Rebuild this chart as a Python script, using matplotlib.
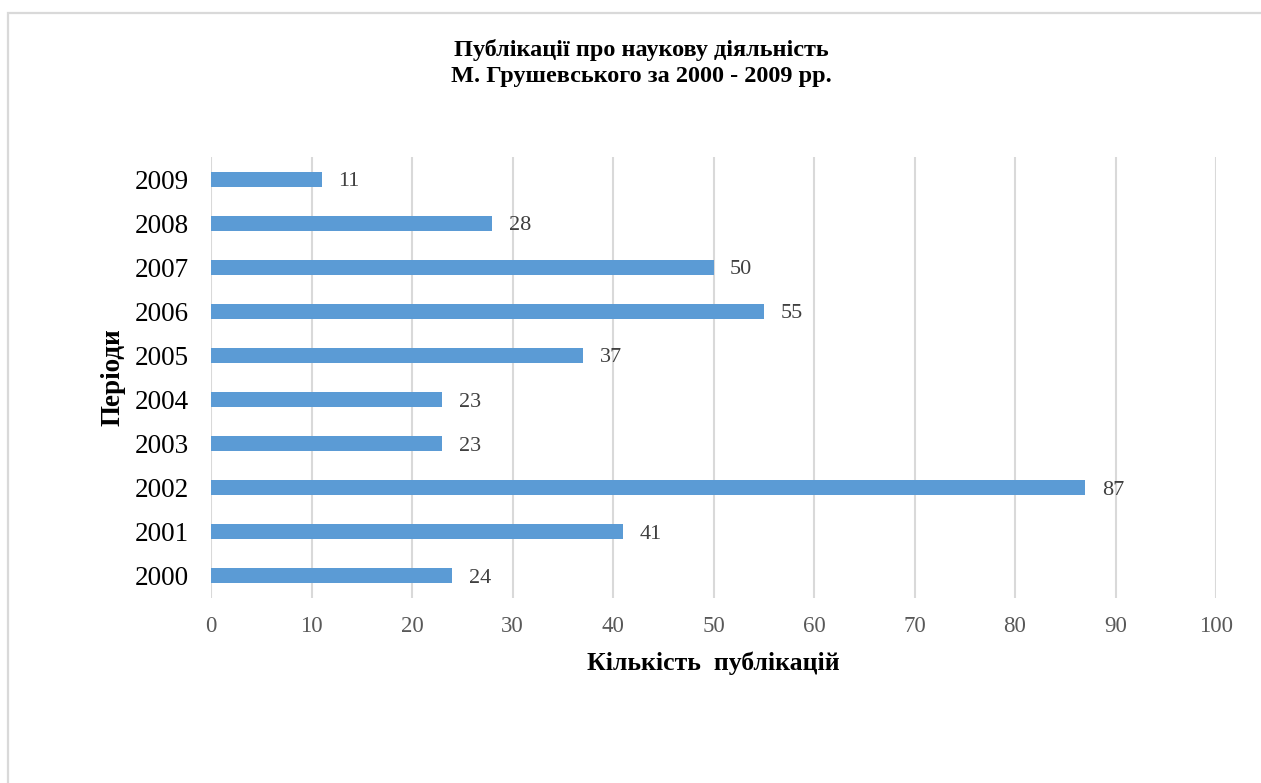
import matplotlib
matplotlib.use("Agg")
import matplotlib.pyplot as plt
from matplotlib.patches import Rectangle

years = ["2000", "2001", "2002", "2003", "2004", "2005", "2006", "2007", "2008", "2009"]
counts = [24, 41, 87, 23, 23, 37, 55, 50, 28, 11]
xticks = [0, 10, 20, 30, 40, 50, 60, 70, 80, 90, 100]

title = "Публікації про наукову діяльність\nМ. Грушевського за 2000 - 2009 рр."
xlabel = "Кількість  публікацій"
ylabel = "Періоди"

plt.rcParams['font.family'] = ['Liberation Serif', 'DejaVu Serif']

W, H = 1261, 783
fig = plt.figure(figsize=(W / 100, H / 100), dpi=100)
fig.patch.set_facecolor("white")

# outer chart-area frame (cropped at right/bottom)
fig.add_artist(Rectangle((8 / W, -0.2), 1.2, 1 - 13 / H + 0.2, transform=fig.transFigure,
                         fill=False, edgecolor="#D9D9D9", linewidth=1.6))

left, right, top, bottom = 211, 1216, 157, 598
ax = fig.add_axes([left / W, 1 - bottom / H, (right - left) / W, (bottom - top) / H])

ypos = list(range(len(years)))
bars = ax.barh(ypos, counts, height=0.34, color="#5B9BD5", zorder=3)

ax.set_xlim(0, 100)
ax.set_ylim(-0.5, len(years) - 0.5)
ax.set_xticks(xticks)
ax.set_xticklabels([str(t) for t in xticks], fontsize=16.5, color="#595959")
ax.set_yticks(ypos)
ax.set_yticklabels(years, fontsize=19.5, color="black")
ax.tick_params(axis="x", length=0, pad=13)
ax.tick_params(axis="y", length=0, pad=16)
ax.grid(axis="x", color="#D9D9D9", linewidth=1.5, zorder=0)
for s in ax.spines.values():
    s.set_visible(False)

for y, v in zip(ypos, counts):
    ax.annotate(str(v), (v, y), xytext=(12, 0), textcoords="offset points",
                ha="left", va="center_baseline", fontsize=16, color="#404040")

ax.set_xlabel(xlabel, fontsize=18.5, fontweight="bold", va="center")
ax.xaxis.set_label_coords(0.5, (bottom - 663) / (bottom - top))
ax.set_ylabel(ylabel, fontsize=19.5, fontweight="bold", va="center")
ax.yaxis.set_label_coords((113 - left) / (right - left), 0.5)

fig.text(641 / W, 1 - 63 / H, title, ha="center", va="center",
         fontsize=17.5, fontweight="bold", linespacing=1.3)

fig.savefig("out.png", dpi=100, facecolor="white")
